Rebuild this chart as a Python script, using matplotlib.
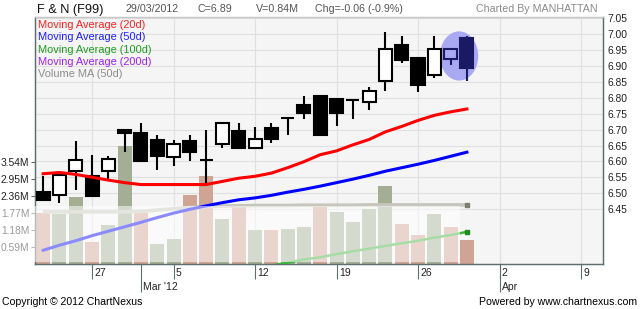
import numpy as np
import matplotlib.pyplot as plt
from matplotlib.patches import Rectangle, Ellipse
from matplotlib.lines import Line2D
from matplotlib.transforms import blended_transform_factory

plt.rcParams['font.family'] = ['Liberation Sans', 'DejaVu Sans']

# trading days, 22 Feb - 29 Mar 2012
dates = ['22/02', '23/02', '24/02', '27/02', '28/02', '29/02', '01/03', '02/03',
         '05/03', '06/03', '07/03', '08/03', '09/03', '12/03', '13/03', '14/03',
         '15/03', '16/03', '19/03', '20/03', '21/03', '22/03', '23/03', '26/03',
         '27/03', '28/03', '29/03']
opens = [6.505, 6.495, 6.571, 6.553, 6.571, 6.700, 6.688, 6.666, 6.613, 6.663,
         6.603, 6.654, 6.696, 6.642, 6.705, 6.736, 6.776, 6.806, 6.797, 6.794,
         6.786, 6.853, 6.967, 6.925, 6.872, 6.924, 6.988]
highs = [6.555, 6.558, 6.663, 6.620, 6.618, 6.700, 6.720, 6.683, 6.666, 6.683,
         6.700, 6.722, 6.720, 6.709, 6.720, 6.736, 6.806, 6.806, 6.797, 6.794,
         6.835, 7.007, 6.995, 6.925, 6.994, 6.954, 6.995]
lows = [6.478, 6.469, 6.511, 6.490, 6.542, 6.631, 6.602, 6.574, 6.584, 6.600,
        6.526, 6.642, 6.640, 6.640, 6.658, 6.683, 6.734, 6.683, 6.710, 6.734,
        6.762, 6.822, 6.911, 6.820, 6.864, 6.903, 6.853]
closes = [6.478, 6.558, 6.603, 6.490, 6.607, 6.690, 6.602, 6.618, 6.655, 6.631,
          6.603, 6.722, 6.643, 6.672, 6.671, 6.736, 6.753, 6.683, 6.752, 6.794,
          6.822, 6.954, 6.920, 6.842, 6.954, 6.954, 6.893]
volume = [1.78, 1.75, 2.34, 0.78, 1.35, 4.10, 1.78, 0.69, 0.87, 2.39, 3.05, 1.56,
          2.05, 1.18, 1.18, 1.20, 1.27, 2.05, 1.81, 1.47, 1.91, 2.71, 1.39, 1.00,
          1.74, 1.30, 0.84]
vol_up = [0, 1, 1, 0, 1, 1, 0, 1, 1, 0, 0, 1, 0, 1, 0, 1, 1, 0, 1, 1, 1, 1, 0, 0,
          1, 0, 0]
ma20 = [6.561, 6.565, 6.559, 6.550, 6.541, 6.533, 6.527, 6.527, 6.527, 6.527,
        6.527, 6.537, 6.547, 6.553, 6.563, 6.580, 6.599, 6.621, 6.633, 6.652,
        6.669, 6.693, 6.710, 6.729, 6.745, 6.756, 6.765]
ma50 = [6.320, 6.336, 6.350, 6.366, 6.380, 6.394, 6.408, 6.423, 6.437, 6.449,
        6.460, 6.470, 6.479, 6.485, 6.493, 6.503, 6.512, 6.522, 6.533, 6.544,
        6.556, 6.569, 6.580, 6.591, 6.603, 6.616, 6.629]
ma100 = [6.272, 6.281, 6.291, 6.298, 6.308, 6.317, 6.325, 6.334, 6.342, 6.350,
         6.360, 6.368, 6.378]  # from 09/03 on
vol_ma50 = [1.81, 1.81, 1.81, 1.81, 1.81, 1.81, 1.82, 1.87, 1.92, 1.96, 1.99,
            2.01, 2.02, 2.03, 2.03, 2.03, 2.04, 2.04, 2.04, 2.04, 2.05, 2.05,
            2.05, 2.05, 2.05, 2.05, 2.05]

week_labels = ['27', '5', '12', '19', '26', '2', '9']
month_labels = ["Mar '12", 'Apr']
month_pos = [3, 25]
price_ticks = [6.45, 6.50, 6.55, 6.60, 6.65, 6.70, 6.75, 6.80, 6.85, 6.90, 6.95, 7.00, 7.05]
vol_ticks = [0.59, 1.18, 1.77, 2.36, 2.95, 3.54]

W, H = 640, 309
def fx(px):
    return px / W
def fy(py):
    return 1 - py / H

x = np.arange(len(dates)) - 3   # 0 = 27 Feb
week_pos = np.arange(len(week_labels)) * 5

fig = plt.figure(figsize=(6.4, 3.09), dpi=100)
ax = fig.add_axes([fx(35), fy(264), fx(603 - 35), (264 - 17) / H])
ax.set_facecolor('#f5f5f5')
axp = ax.twinx()

ax.set_xlim(-3.5, 31.35)
ax.set_ylim(0, 8.572)
axp.set_ylim(6.2768, 7.0547)

# grid
gt = blended_transform_factory(ax.transAxes, axp.transData)
for p in price_ticks:
    ax.add_line(Line2D([0, 1], [p, p], transform=gt, color='#e0e0e0', lw=0.8, zorder=0.5))
for p in week_pos:
    ax.axvline(p, color='#e0e0e0', lw=0.8, zorder=0.5)

# volume
up_col, dn_col = '#a4ae95', '#cfa494'
ax.bar(x, volume, width=0.86, color=[up_col if u else dn_col for u in vol_up], zorder=2)
ax.plot(x, vol_ma50, color='#c6c6bc', lw=2.6, zorder=3, solid_capstyle='butt')
ax.plot(x[-1:], vol_ma50[-1:], 's', color='#7d8070', ms=2.5, zorder=3)

# highlight of the last two sessions
axp.add_patch(Ellipse((22.52, 6.932), 2.35, 0.155, color='#a9a9f2', lw=0, zorder=1))

# candles
bw = 0.8
for i in range(len(x)):
    o, h, l, c = opens[i], highs[i], lows[i], closes[i]
    col = '#191964' if i >= len(x) - 2 else 'black'
    axp.vlines(x[i], l, h, color=col, lw=1.5, zorder=2)
    if abs(c - o) < 0.002:
        axp.hlines(o, x[i] - bw / 2, x[i] + bw / 2, color=col, lw=1.5, zorder=3)
        continue
    if c > o:
        face = '#a9a9f2' if i >= len(x) - 2 else 'white'
    else:
        face = col
    axp.add_patch(Rectangle((x[i] - bw / 2, min(o, c)), bw, abs(c - o),
                            facecolor=face, edgecolor=col, lw=1.5, zorder=3))

# moving averages
axp.plot(x, ma20, color='#ff0000', lw=2.2, zorder=4)
axp.plot(x, ma50, color='#0000ff', lw=2.2, zorder=4)
axp.plot(x[-len(ma100):], ma100, color='#3cb43c', lw=1.8, zorder=4)
axp.plot(x[-1:], ma100[-1:], 's', color='#1c8c1c', ms=2.5, zorder=4)

# axes styling
for a in (ax, axp):
    for s in a.spines.values():
        s.set_color('#5f6f6f')
        s.set_linewidth(0.9)
    a.spines['top'].set_color('#c8c8c8')

ax.set_yticks(vol_ticks)
ax.set_yticklabels([f'{v:.2f}M' for v in vol_ticks])
ax.tick_params(axis='y', length=3, width=0.8, color='#5f6f6f', labelsize=7.4,
               labelcolor='#222222', pad=1)
axp.set_yticks(price_ticks)
axp.set_yticklabels([f'{p:.2f}' for p in price_ticks])
axp.tick_params(axis='y', length=0, labelsize=7.4, labelcolor='#222222', pad=3)

ax.set_xticks(week_pos)
ax.set_xticklabels([])
ax.set_xticks(month_pos, minor=True)
ax.xaxis.remove_overlapping_locs = False
ax.tick_params(axis='x', which='major', length=11, width=0.8, color='#5f6f6f')
ax.tick_params(axis='x', which='minor', length=20, width=0.8, color='#5f6f6f')
xt = ax.get_xaxis_transform()
for p, lab in zip(week_pos, week_labels):
    ax.text(p + 0.14, -0.036, lab, transform=xt, ha='left', va='center',
            fontsize=7.5, color='#222222')
for p, lab in zip(month_pos, month_labels):
    ax.text(p + 0.14, -0.093, lab, transform=xt, ha='left', va='center',
            fontsize=7.5, color='#222222')

# legend
legend = [('Moving Average (20d)', '#ff2020'), ('Moving Average (50d)', '#2020ff'),
          ('Moving Average (100d)', '#1e9e1e'), ('Moving Average (200d)', '#a020f0'),
          ('Volume MA (50d)', '#8c8c8c')]
for k, (lab, col) in enumerate(legend):
    fig.text(fx(38), fy(25 + 12.3 * k), lab, color=col, fontsize=7.9, va='center')

# header
fig.text(fx(37), fy(9.5), 'F & N (F99)', fontsize=9.2, va='center', color='#111111')
fig.text(fx(125), fy(9.5), '29/03/2012', fontsize=7.7, va='center', color='#555555')
fig.text(fx(198), fy(9.5), 'C=6.89', fontsize=7.7, va='center', color='#555555')
fig.text(fx(256), fy(9.5), 'V=0.84M', fontsize=7.7, va='center', color='#555555')
fig.text(fx(315), fy(9.5), 'Chg=-0.06 (-0.9%)', fontsize=7.7, va='center', color='#555555')
fig.text(fx(598), fy(9.5), 'Charted By MANHATTAN', fontsize=7.7, va='center', ha='right',
         color='#8a8a8a')

# footer
fig.text(fx(2), fy(302), 'Copyright \u00a9 2012 ChartNexus', fontsize=7.6, va='center')
fig.text(fx(637), fy(302), 'Powered by www.chartnexus.com', fontsize=7.6, va='center',
         ha='right')

# washed-out band over the lower part
fig.add_artist(Rectangle((0, fy(262)), fx(460), (262 - 206) / H, transform=fig.transFigure,
                         facecolor='white', alpha=0.55, lw=0, zorder=10))

fig.savefig('out.png', dpi=100, facecolor='white')
